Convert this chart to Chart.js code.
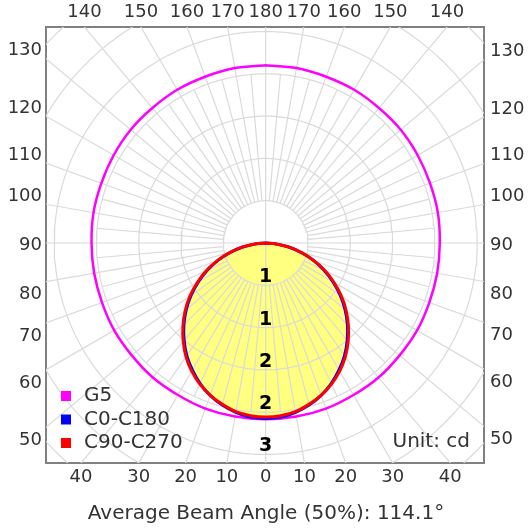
<!DOCTYPE html>
<html>
<head>
<meta charset="utf-8">
<script src="https://cdn.jsdelivr.net/npm/chart.js@4.4.1/dist/chart.umd.min.js"></script>
<style>
  html, body { margin: 0; padding: 0; background: #fff; }
  #wrap { width: 532px; height: 529px; position: relative; }
</style>
</head>
<body>
<div id="wrap"><canvas id="chart"></canvas></div>
<script>
// luminous intensity (cd), gamma measured from straight down
const gammaAngles = [0, 5, 10, 15, 20, 25, 30, 35, 40, 45, 50, 55, 60, 65, 70, 75, 80, 85, 90];
const c0c180 =  [2.49, 2.48, 2.44, 2.38, 2.30, 2.20, 2.08, 1.95, 1.80, 1.64, 1.47, 1.29, 1.10, 0.91, 0.72, 0.52, 0.33, 0.15, 0];
const c90c270 = [2.47, 2.46, 2.43, 2.37, 2.30, 2.21, 2.10, 1.97, 1.82, 1.66, 1.49, 1.31, 1.12, 0.93, 0.73, 0.53, 0.34, 0.15, 0];

const g5Angles = [0, 10, 20, 30, 40, 50, 60, 70, 80, 90, 100, 110, 120, 130, 140, 150, 160, 170, 180];
const g5Values = [2.50, 2.50, 2.50, 2.49, 2.49, 2.48, 2.48, 2.47, 2.47, 2.47, 2.48, 2.48, 2.49, 2.50, 2.50, 2.51, 2.51, 2.52, 2.52];

const ringValues = [0.6, 1.2, 1.8, 2.4, 3.0, 3.6, 4.2];
const ringLabels = ['1', '1', '2', '2', '3'];

const bottomTicks = [-40, -30, -20, -10, 0, 10, 20, 30, 40];
const topTicks = [-140, -150, -160, -170, 180, 170, 160, 150, 140];
const sideTicks = [130, 120, 110, 100, 90, 80, 70, 60, 50];

const seriesNames = ['G5', 'C0-C180', 'C90-C270'];
const beamAngle = 114.1;

// visible window, cd
const X_MIN = -3.116, X_MAX = 3.097, Y_MIN = -3.121, Y_MAX = 3.064;

const FONT = '"DejaVu Sans", Verdana, sans-serif';
Chart.defaults.font.family = FONT;

const rad = d => d * Math.PI / 180;
function polar(g, r, side) {
  return { x: side * r * Math.sin(rad(g)), y: -r * Math.cos(rad(g)) };
}
// left half (C180 / C270) mirrored from the right one
function curve(angles, values) {
  const pts = [];
  for (let i = angles.length - 1; i >= 0; i--) pts.push(polar(angles[i], values[i], -1));
  for (let i = 1; i < angles.length; i++) pts.push(polar(angles[i], values[i], 1));
  return pts;
}

// polar grid: rings, 5 deg spokes inside, 10 deg spokes out to the frame
const gap = { x: NaN, y: NaN };
const gridPts = [];
ringValues.forEach(r => {
  for (let a = 0; a <= 360; a += 2) gridPts.push(polar(a, r, 1));
  gridPts.push(gap);
});
for (let a = 0; a < 360; a += 5) {
  const inner = a % 90 === 0 ? 0 : ringValues[0];
  const outer = a % 10 === 0 ? 6 : ringValues[3];
  gridPts.push(polar(a, inner, 1), polar(a, outer, 1), gap);
}

function sideY(a, d) {
  const shift = a > 90 ? 0.15 : (a < 90 ? -0.15 : 0);
  return -d / Math.tan(rad(a)) + shift - 0.035;
}

const tickFont = { size: 18 };
const boxBorder = { display: true, color: '#808080', width: 2 };
const noGrid = { display: false, drawTicks: false };

const overlay = {
  id: 'overlay',
  afterDatasetsDraw(chart) {
    const { ctx, chartArea, scales: { x, y } } = chart;
    ctx.save();
    ctx.fillStyle = '#000';
    ctx.font = 'bold 19px ' + FONT;
    ctx.textAlign = 'center';
    ctx.textBaseline = 'middle';
    ringLabels.forEach((t, i) => {
      ctx.fillText(t, x.getPixelForValue(0), y.getPixelForValue(-ringValues[i]) - 8);
    });

    // legend inside the box
    ctx.font = '20px ' + FONT;
    ctx.textAlign = 'left';
    const colors = ['#ff00ff', '#0000ff', '#ff0000'];
    seriesNames.forEach((name, i) => {
      const cy = chartArea.bottom - 67 + i * 23.5;
      ctx.fillStyle = colors[i];
      ctx.fillRect(chartArea.left + 15, cy - 5, 10, 10);
      ctx.fillStyle = '#333';
      ctx.fillText(name, chartArea.left + 38, cy);
    });
    ctx.textAlign = 'right';
    ctx.fillText('Unit: cd', chartArea.right - 14, chartArea.bottom - 21);
    ctx.restore();
  }
};

new Chart(document.getElementById('chart'), {
  type: 'scatter',
  data: {
    datasets: [
      {
        label: seriesNames[2], data: curve(gammaAngles, c90c270), showLine: true,
        borderColor: '#ff0000', borderWidth: 3, pointRadius: 0, tension: 0.3, order: 1
      },
      {
        label: seriesNames[1], data: curve(gammaAngles, c0c180), showLine: true,
        borderColor: '#0000ff', borderWidth: 3, pointRadius: 0, tension: 0.3, order: 2
      },
      {
        label: seriesNames[0], data: curve(g5Angles, g5Values), showLine: true,
        borderColor: '#ff00ff', borderWidth: 2.5, pointRadius: 0, tension: 0.3, order: 3
      },
      {
        label: 'grid', data: gridPts, showLine: true, spanGaps: false,
        borderColor: '#dadada', borderWidth: 1.2, pointRadius: 0, order: 4
      },
      {
        label: 'fill', data: curve(gammaAngles, c90c270), showLine: true,
        borderWidth: 0, borderColor: 'rgba(0,0,0,0)', backgroundColor: '#ffff80',
        fill: 'shape', pointRadius: 0, tension: 0.3, order: 5
      }
    ]
  },
  options: {
    responsive: true,
    maintainAspectRatio: false,
    animation: false,
    events: [],
    layout: { padding: 0 },
    plugins: {
      legend: { display: false },
      tooltip: { enabled: false },
      title: {
        display: true,
        position: 'bottom',
        text: 'Average Beam Angle (50%): ' + beamAngle + '°',
        color: '#333',
        font: { size: 20, weight: 'normal' },
        padding: { top: 0, bottom: 3 }
      }
    },
    scales: {
      x: {
        type: 'linear', position: 'bottom', min: X_MIN, max: X_MAX,
        grid: noGrid, border: boxBorder,
        afterBuildTicks: s => { s.ticks = bottomTicks.map(a => ({ value: -Y_MIN * Math.tan(rad(a)) })); },
        afterFit: s => { s.height = 39; },
        ticks: { autoSkip: false, maxRotation: 0, padding: 4, color: '#333', font: tickFont,
                 callback: (v, i) => String(Math.abs(bottomTicks[i])) }
      },
      x2: {
        type: 'linear', position: 'top', min: X_MIN, max: X_MAX,
        grid: noGrid, border: boxBorder,
        afterBuildTicks: s => { s.ticks = topTicks.map(a => ({ value: Math.sign(a) * Y_MAX * Math.tan(rad(180 - Math.abs(a))) })); },
        afterFit: s => { s.height = 27; },
        ticks: { autoSkip: false, maxRotation: 0, padding: 4, color: '#333', font: tickFont,
                 callback: (v, i) => String(Math.abs(topTicks[i])) }
      },
      y: {
        type: 'linear', position: 'left', min: Y_MIN, max: Y_MAX,
        grid: noGrid, border: boxBorder,
        afterBuildTicks: s => { s.ticks = sideTicks.map(a => ({ value: sideY(a, -X_MIN) })); },
        afterFit: s => { s.width = 46; },
        ticks: { autoSkip: false, padding: 4, color: '#333', font: tickFont,
                 callback: (v, i) => String(sideTicks[i]) }
      },
      y2: {
        type: 'linear', position: 'right', min: Y_MIN, max: Y_MAX,
        grid: noGrid, border: boxBorder,
        afterBuildTicks: s => { s.ticks = sideTicks.map(a => ({ value: sideY(a, X_MAX) })); },
        afterFit: s => { s.width = 48; },
        ticks: { autoSkip: false, padding: 6, color: '#333', font: tickFont,
                 callback: (v, i) => String(sideTicks[i]) }
      }
    }
  },
  plugins: [overlay]
});
</script>
</body>
</html>
